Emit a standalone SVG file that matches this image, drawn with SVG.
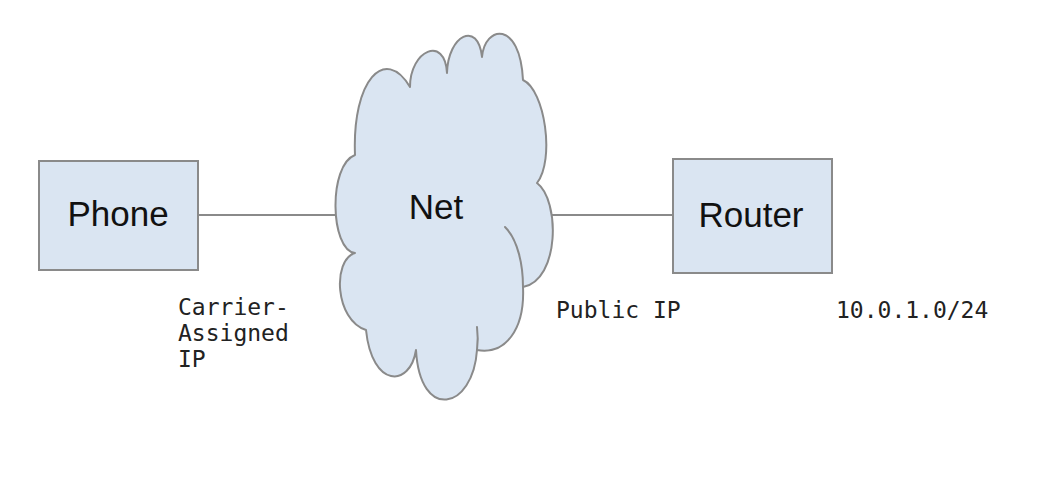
<svg xmlns="http://www.w3.org/2000/svg" width="1060" height="478" viewBox="0 0 1060 478">
<style>
.box{fill:#dae5f2;stroke:#8a8a8a;stroke-width:2}
.cloud{fill:#dae5f2;stroke:#8a8a8a;stroke-width:2;stroke-linejoin:round}
.inner{fill:none;stroke:#8a8a8a;stroke-width:2;stroke-linecap:round}
.lbl{font-family:"Liberation Sans",Arial,sans-serif;font-size:35px;fill:#111;text-anchor:middle}
.mono{font-family:"DejaVu Sans Mono","Liberation Mono",monospace;font-size:23px;fill:#222}
.conn{stroke:#8a8a8a;stroke-width:2;fill:none}
</style>
<rect width="1060" height="478" fill="#fff"/>
<g id="connectors">
<line class="conn" x1="198" y1="215" x2="336" y2="215"/>
<line class="conn" x1="550" y1="215" x2="673" y2="215"/>
</g>
<g id="phone">
<rect class="box" x="39" y="161" width="159" height="109"/>
<text class="lbl" x="118" y="226">Phone</text>
</g>
<g id="net">
<path class="cloud" d="M 355,253 C 330,250 328,165 355,155 C 352,80 385,45 410,87 C 410,50 445,35 447,73 C 448,35 478,20 482,57 C 485,25 520,20 523,80 C 545,90 555,160 537,183 C 560,200 560,280 523,287 C 525,330 505,355 477,350 C 473,410 420,422 416,350 C 410,388 372,388 366,330 C 335,320 332,260 355,253 Z"/>
<path class="inner" d="M 505,227 C 518,240 523,265 523,287"/>
<path class="inner" d="M 477,327 C 478,335 478,342 477,350"/>
<text class="lbl" x="436" y="219">Net</text>
</g>
<g id="router">
<rect class="box" x="673" y="159" width="159" height="114"/>
<text class="lbl" x="751" y="227">Router</text>
</g>
<g id="labels">
<text class="mono" x="178" y="315">Carrier-</text>
<text class="mono" x="178" y="341">Assigned</text>
<text class="mono" x="178" y="367">IP</text>
<text class="mono" x="556" y="318">Public IP</text>
<text class="mono" x="836" y="318">10.0.1.0/24</text>
</g>
</svg>
